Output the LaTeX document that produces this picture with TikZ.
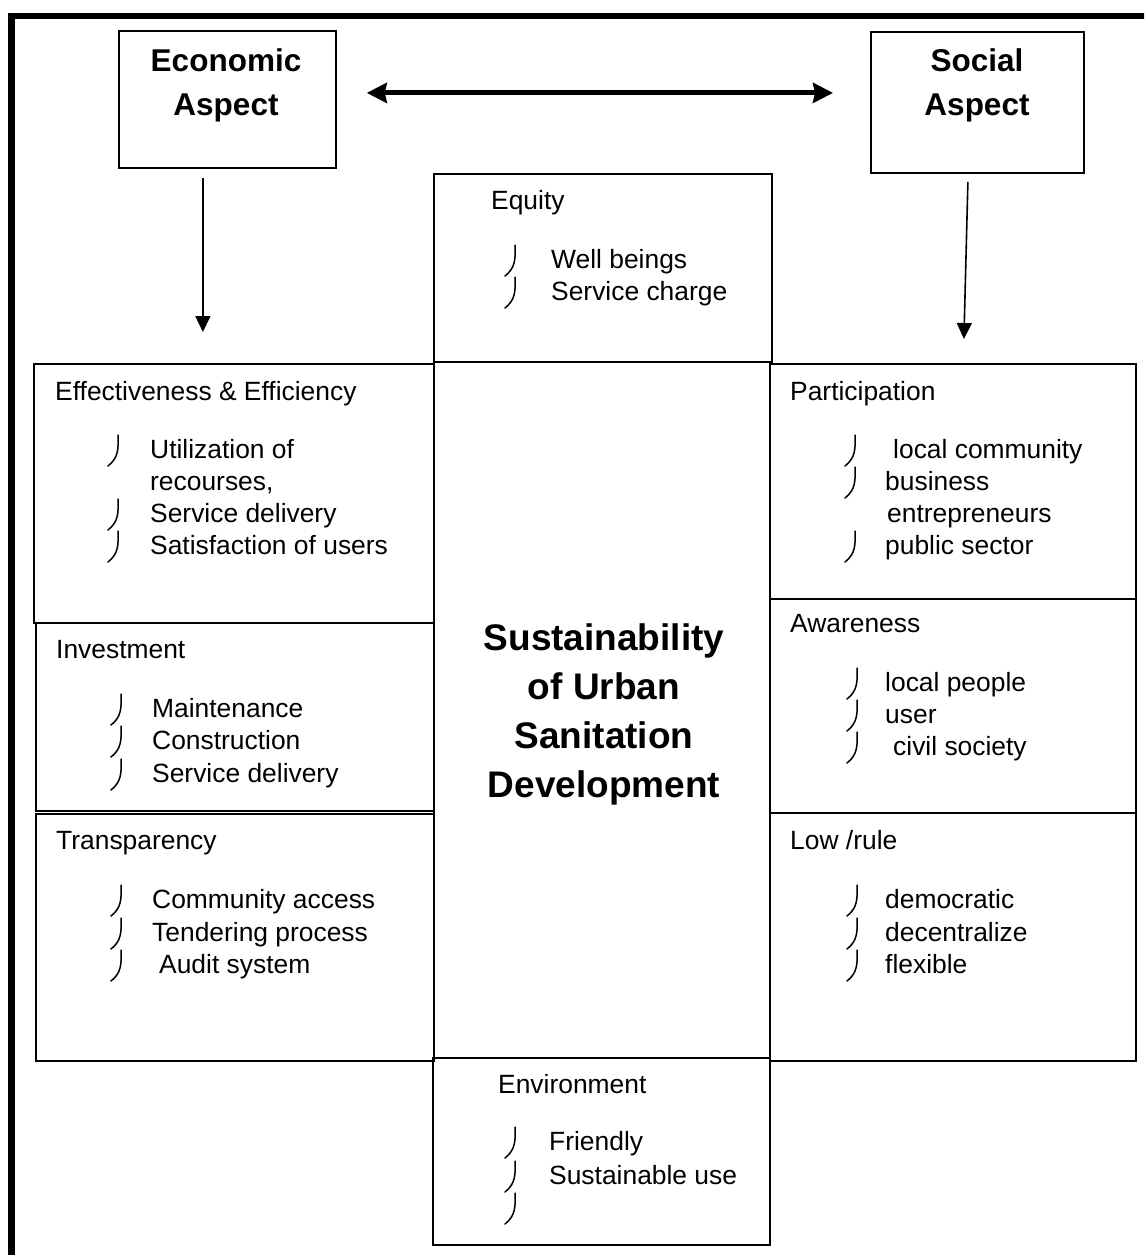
\documentclass[tikz,border=0pt]{standalone}
\usepackage{fontspec}
\setmainfont{Liberation Sans}
\usetikzlibrary{arrows.meta}
\tikzset{
  box/.style={draw, line width=1.8pt, inner sep=0pt, anchor=north west},
  txt/.style={anchor=base west, inner sep=0pt, font=\fontsize{26.4}{32}\selectfont},
  ttl/.style={anchor=base, inner sep=0pt, font=\bfseries\fontsize{31.5}{44}\selectfont},
  ctr/.style={anchor=base, inner sep=0pt, font=\bfseries\fontsize{37}{49}\selectfont},
  dbl/.style={line width=5pt, {Stealth[length=20pt,width=20pt,inset=2pt]}-{Stealth[length=20pt,width=20pt,inset=2pt]}},
  arr/.style={line width=1.6pt, -{Triangle[length=16pt,width=15pt]}},
  bul/.pic={\draw[line width=1.5pt, line cap=round] (0,-1) .. controls (0.6,13) and (0.3,22) .. (-10,30);}
}
\newcommand\bulat[2]{\pic at (#1,#2-22) {bul};}
\begin{document}
\begin{tikzpicture}[x=1pt,y=-1pt]
\useasboundingbox (0,0) rectangle (1144,1255);
\clip (0,0) rectangle (1144,1255);
% outer frame (cut by the page on the right and bottom)
\draw[line width=6.5pt] (11.7,1270) -- (11.7,16) -- (1160,16);

% boxes
\node[box, minimum width=217pt, minimum height=137pt] (eco) at (118,30) {};
\node[box, minimum width=213pt, minimum height=141pt] (soc) at (870,31) {};
\node[box, minimum width=338pt, minimum height=188pt] (equ) at (433,173) {};
\node[box, minimum width=336pt, minimum height=696pt] (cen) at (433,361) {};
\node[box, minimum width=337pt, minimum height=187pt] (env) at (432,1057) {};
\node[box, minimum width=400pt, minimum height=259pt] (eff) at (33,363) {};
\node[box, minimum width=398pt, minimum height=188pt] (inv) at (35,622) {};
\node[box, minimum width=398pt, minimum height=247pt] (tra) at (35,813) {};
\node[box, minimum width=366pt, minimum height=235pt] (par) at (769,363) {};
\node[box, minimum width=366pt, minimum height=214pt] (awa) at (769,598) {};
\node[box, minimum width=366pt, minimum height=248pt] (low) at (769,812) {};

% titles
\node[ttl] (ecoa) at (226,71) {Economic};
\node[ttl] (ecob) at (226,115) {Aspect};
\node[ttl] (soca) at (977,71) {Social};
\node[ttl] (socb) at (977,115) {Aspect};

% connectors
\draw[dbl, shorten <=30pt, shorten >=37pt] ([yshift=6.5pt]eco.east) -- ([yshift=6.5pt]eco.east -| soc.west);
\draw[arr, shorten <=9pt, shorten >=31pt] ([xshift=-24.5pt]eco.south) -- ([xshift=-24.5pt]eco.south |- eff.north);
\draw[arr] ([xshift=-9.5pt,yshift=-8pt]soc.south) -- ([xshift=11pt,yshift=24pt]par.north);

% equity
\node[txt] (eqh) at (491,209) {Equity};
\node[txt] (eq1) at (551,268) {Well beings};
\node[txt] (eq2) at (551,300) {Service charge};
\bulat{515}{268}\bulat{515}{300}

% effectiveness
\node[txt] (efh) at (55,400) {Effectiveness \& Efficiency};
\node[txt] (ef1) at (150,458) {Utilization of};
\node[txt] (ef2) at (150,490) {recourses,};
\node[txt] (ef3) at (150,522) {Service delivery};
\node[txt] (ef4) at (150,554) {Satisfaction of users};
\bulat{118}{458}\bulat{118}{522}\bulat{118}{554}

% investment
\node[txt] (inh) at (56,658) {Investment};
\node[txt] (in1) at (152,717) {Maintenance};
\node[txt] (in2) at (152,749) {Construction};
\node[txt] (in3) at (152,782) {Service delivery};
\bulat{121}{717}\bulat{121}{749}\bulat{121}{782}

% transparency
\node[txt] (trh) at (56,849) {Transparency};
\node[txt] (tr1) at (152,908) {Community access};
\node[txt] (tr2) at (152,941) {Tendering process};
\node[txt] (tr3) at (159,973) {Audit system};
\bulat{121}{908}\bulat{121}{941}\bulat{121}{973}

% participation
\node[txt] (pah) at (790,400) {Participation};
\node[txt] (pa1) at (893,458) {local community};
\node[txt] (pa2) at (885,490) {business};
\node[txt] (pa3) at (887,522) {entrepreneurs};
\node[txt] (pa4) at (885,554) {public sector};
\bulat{855}{458}\bulat{855}{490}\bulat{855}{554}

% awareness
\node[txt] (awh) at (790,632) {Awareness};
\node[txt] (aw1) at (885,691) {local people};
\node[txt] (aw2) at (885,723) {user};
\node[txt] (aw3) at (893,755) {civil society};
\bulat{857}{691}\bulat{857}{723}\bulat{857}{755}

% low / rule
\node[txt] (loh) at (790,849) {Low /rule};
\node[txt] (lo1) at (885,908) {democratic};
\node[txt] (lo2) at (885,941) {decentralize};
\node[txt] (lo3) at (885,973) {flexible};
\bulat{857}{908}\bulat{857}{941}\bulat{857}{973}

% environment
\node[txt] (enh) at (498,1093) {Environment};
\node[txt] (en1) at (549,1150) {Friendly};
\node[txt] (en2) at (549,1184) {Sustainable use};
\bulat{515}{1150}\bulat{515}{1184}\bulat{515}{1216}

% centre
\node[ctr] (c1) at (604,650) {Sustainability};
\node[ctr] (c2) at (604,699) {of Urban};
\node[ctr] (c3) at (604,748) {Sanitation};
\node[ctr] (c4) at (604,797) {Development};
\end{tikzpicture}
\end{document}
